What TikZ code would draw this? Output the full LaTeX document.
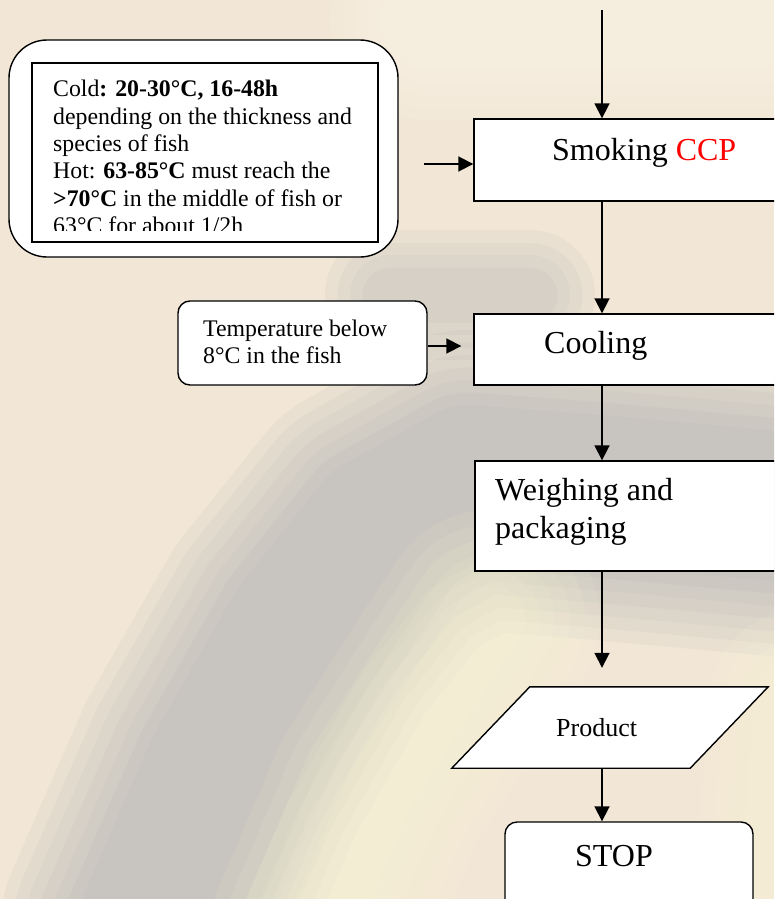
\documentclass[tikz,border=0pt]{standalone}
\usepackage{fontspec}
\setmainfont{Liberation Serif}
\usetikzlibrary{arrows.meta,calc}
\definecolor{bgbase}{RGB}{242,231,214}
\definecolor{bggray}{RGB}{168,169,176}
\definecolor{bgyel}{RGB}{252,250,212}
\definecolor{bglight}{RGB}{254,252,238}
\definecolor{ccpred}{RGB}{255,0,0}
% soft stroke along a centre line: colour, list of widths, path
\newcommand\softline[3]{%
  \foreach \w in {#2}{\draw[#1,softblob,line width=\w pt] #3;}}
\tikzset{
  softblob/.style={line join=round, line cap=round, opacity=0.1},
  stepbox/.style={draw=black, fill=white, line width=1.4pt, inner sep=0pt},
  roundbox/.style={stepbox, rounded corners=12pt},
  arr/.style={line width=1.8pt, -{Triangle[length=15pt,width=15pt]}},
  bigtxt/.style={font=\fontsize{32}{38}\selectfont, inner sep=0pt, anchor=base west},
  midtxt/.style={font=\fontsize{26}{30}\selectfont, inner sep=0pt, anchor=base west},
  smalltxt/.style={font=\fontsize{23.8}{27.3}\selectfont, inner sep=0pt, anchor=base west},
}
\begin{document}
\begin{tikzpicture}[x=1pt,y=-1pt]
\useasboundingbox (0,0) rectangle (774,899);
\clip (0,0) rectangle (774,899);
% ---------- background ----------
\fill[bgbase] (0,0) rectangle (774,899);
\softline{bglight}{200,175,150,125,100,75}{(430,20) -- (820,20)}
\softline{bggray}{130,105,80,55}{(390,295) -- (530,295)}
\softline{bggray}{300,275,250,225,200,175,150}{(820,510) -- (600,490) -- (470,480) -- (380,530) -- (300,630) -- (220,770) -- (150,930)}
\softline{bgyel}{220,190,160,130,100,70}{(320,930) -- (380,790) -- (450,680) -- (490,620)}
\softline{bgyel}{180,150,120,90}{(800,700) -- (780,930)}
% ---------- note box ----------
\node[stepbox, rounded corners=38pt, minimum width=389pt, minimum height=217pt] (noteout) at (203.5,148.5) {};
\node[stepbox, minimum width=346pt, minimum height=179pt] (notein) at (205,152.5) {};
\begin{scope}
  \clip (33,64) rectangle (377,230);
  \node[smalltxt] (n1) at (53,96.7) {Cold\textbf{: 20-30°C, 16-48h}};
  \node[smalltxt] (n2) at (53,124) {depending on the thickness and};
  \node[smalltxt] (n3) at (53,151.3) {species of fish};
  \node[smalltxt] (n4) at (53,178.6) {Hot: \textbf{63-85°C} must reach the};
  \node[smalltxt] (n5) at (53,206) {\textbf{>70°C} in the middle of fish or};
  \node[smalltxt] (n6) at (53,233.5) {63°C for about 1/2h};
\end{scope}
% ---------- temperature box ----------
\node[roundbox, minimum width=249pt, minimum height=84pt] (temp) at (302.5,343) {};
\node[smalltxt] (t1) at (203,336) {Temperature below};
\node[smalltxt] (t2) at (203,363) {8°C in the fish};
% ---------- main flow ----------
\node[stepbox, minimum width=340pt, minimum height=82pt] (smk) at (644,160) {};
\node[bigtxt] (smkt) at (552,160) {Smoking \textcolor{ccpred}{CCP}};
\node[stepbox, minimum width=340pt, minimum height=71pt] (cool) at (644,349.5) {};
\node[bigtxt] (coolt) at (544,353) {Cooling};
\node[stepbox, minimum width=340pt, minimum height=110pt] (wgh) at (645,516) {};
\node[bigtxt] (wght1) at (495,500) {Weighing and};
\node[bigtxt] (wght2) at (495,538) {packaging};
\node[inner sep=0pt, minimum width=316pt, minimum height=81pt] (prod) at (610,727.5) {};
\draw[line width=1.4pt, fill=white, line join=miter]
  ($(prod.north west)+(78,0)$) -- (prod.north east) -- ($(prod.south east)-(78,0)$) -- (prod.south west) -- cycle;
\node[midtxt] (prodt) at (556,736) {Product};
\node[roundbox, minimum width=248pt, minimum height=100pt] (stop) at (629,872) {};
\node[bigtxt] (stopt) at (575,866) {STOP};
% ---------- connectors ----------
\coordinate (topin) at (602,10);
\coordinate (smkin) at (424,164);
\draw[arr] (topin) -- (topin |- smk.north);
\draw[arr] (topin |- smk.south) -- (topin |- cool.north);
\draw[arr] (topin |- cool.south) -- (topin |- wgh.north);
\draw[arr, shorten >=19pt] (topin |- wgh.south) -- (topin |- prod.north);
\draw[arr] (topin |- prod.south) -- (topin |- stop.north);
\draw[arr] (smkin) -- (smkin -| smk.west);
\draw[arr, shorten >=12pt] ($(temp.east)+(0,3)$) -- ($(temp.east -| cool.west)+(0,3)$);
\end{tikzpicture}
\end{document}
